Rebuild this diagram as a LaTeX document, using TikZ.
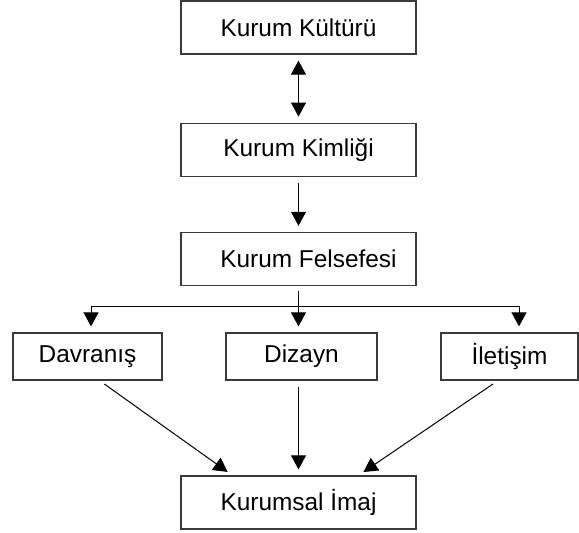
\documentclass[tikz,border=0pt]{standalone}
\usepackage{fontspec}
\setmainfont{Liberation Sans}
\usetikzlibrary{positioning,arrows.meta}
\definecolor{boxline}{HTML}{3A3A3A}

\begin{document}
\begin{tikzpicture}[
  x=1pt, y=1pt,
  node distance=34pt,
  kbox/.style={draw=boxline, line width=0.6pt, align=center, font=\fontsize{12.2}{14}\selectfont,
               minimum width=117.5pt, minimum height=26.5pt, inner sep=0pt},
  rbox/.style={kbox, minimum height=23.5pt},
  flow/.style={-{Triangle[length=7pt,width=7.5pt]}, line width=0.5pt, shorten >=3pt},
  both/.style={flow, {Triangle[length=7pt,width=7.5pt]}-{Triangle[length=7pt,width=7.5pt]}, shorten <=3pt}
]
\useasboundingbox (0,0) rectangle (289.5,266.5);
% top column
\node[kbox] (kultur) at (149.25,252.75) {Kurum Kültürü};
\node[kbox, below=34pt of kultur] (kimlik) {Kurum Kimliği};
\node[kbox, below=27.5pt of kimlik] (felsefe) {\hspace*{10pt}Kurum Felsefesi};
% middle row
\node[rbox, minimum width=74.5pt] (davranis) at (43.75,88.25) {Davranış};
\node[rbox, minimum width=75.5pt] (dizayn) at (150.75,88.25) {Dizayn};
\node[rbox, minimum width=68.5pt] (iletisim) at (254.75,88.25) {İletişim};
% bottom
\node[kbox] (imaj) at (149.25,15.25) {Kurumsal İmaj};

\draw[both] (kultur) -- (kimlik);
\draw[flow, shorten <=3pt] (kimlik) -- (felsefe);

\coordinate (split) at ([yshift=-10.5pt]felsefe.south);
\draw[line width=0.5pt, shorten <=2.5pt] (felsefe.south) -- (split);
\draw[flow] (split) -| ([xshift=1.75pt]davranis.north);
\draw[flow] (split) -- (split |- dizayn.north);
\draw[flow] (split) -| ([xshift=4.75pt]iletisim.north);

\draw[flow, shorten <=3pt] ([xshift=6pt]davranis.south) -- ([xshift=-33pt]imaj.north);
\draw[flow, shorten <=3pt] (dizayn.south -| imaj.north) -- (imaj.north);
\draw[flow, shorten <=3pt] ([xshift=-5.75pt]iletisim.south) -- ([xshift=30pt]imaj.north);
\end{tikzpicture}
\end{document}
